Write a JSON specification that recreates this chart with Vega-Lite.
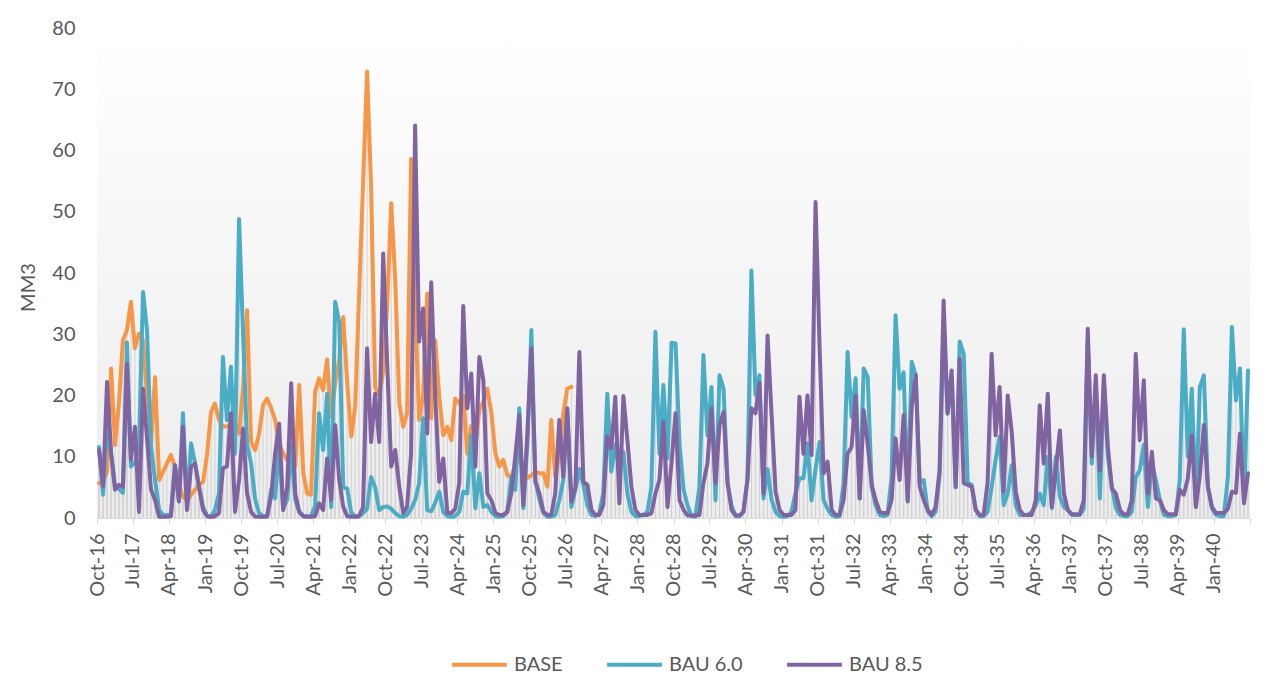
{
  "$schema": "https://vega.github.io/schema/vega-lite/v6.json",
  "width": 1153,
  "height": 490,
  "autosize": {"type": "none"},
  "padding": {"left": 97, "top": 28, "right": 31, "bottom": 168},
  "background": "#ffffff",
  "config": {
    "font": "Lato",
    "view": {
      "stroke": null,
      "fill": {"gradient": "linear", "x1": 0, "y1": 0, "x2": 0, "y2": 1,
        "stops": [{"offset": 0, "color": "#ffffff"}, {"offset": 1, "color": "#ececec"}]}
    },
    "axis": {"labelFont": "Lato", "titleFont": "Lato", "labelColor": "#595959", "titleColor": "#595959", "grid": false}
  },
  "data": {"values": [
    {"date":"2016-10","BASE":5.7,"BAU60":11.6,"BAU85":11.1},
    {"date":"2016-11","BASE":6,"BAU60":3.8,"BAU85":5.1},
    {"date":"2016-12","BASE":7.5,"BAU60":15,"BAU85":22.2},
    {"date":"2017-01","BASE":24.4,"BAU60":10.5,"BAU85":10.5},
    {"date":"2017-02","BASE":11.9,"BAU60":5.4,"BAU85":4.6},
    {"date":"2017-03","BASE":18.7,"BAU60":4.8,"BAU85":5.4},
    {"date":"2017-04","BASE":29,"BAU60":4.1,"BAU85":5.1},
    {"date":"2017-05","BASE":30.7,"BAU60":28.7,"BAU85":25.2},
    {"date":"2017-06","BASE":35.3,"BAU60":8.4,"BAU85":9.5},
    {"date":"2017-07","BASE":27.7,"BAU60":9,"BAU85":14.9},
    {"date":"2017-08","BASE":30.1,"BAU60":12,"BAU85":1.0},
    {"date":"2017-09","BASE":29,"BAU60":36.9,"BAU85":21.1},
    {"date":"2017-10","BASE":20,"BAU60":30.6,"BAU85":13},
    {"date":"2017-11","BASE":12.2,"BAU60":11.6,"BAU85":4.6},
    {"date":"2017-12","BASE":23,"BAU60":6.2,"BAU85":2.9},
    {"date":"2018-01","BASE":6.2,"BAU60":1.3,"BAU85":0.2},
    {"date":"2018-02","BASE":7.5,"BAU60":0.5,"BAU85":0.2},
    {"date":"2018-03","BASE":8.9,"BAU60":0.5,"BAU85":0.2},
    {"date":"2018-04","BASE":10.3,"BAU60":0.5,"BAU85":0.3},
    {"date":"2018-05","BASE":8.4,"BAU60":8.6,"BAU85":8.6},
    {"date":"2018-06","BASE":5.1,"BAU60":2.7,"BAU85":2.7},
    {"date":"2018-07","BASE":3.5,"BAU60":17.1,"BAU85":14.9},
    {"date":"2018-08","BASE":2.9,"BAU60":1.8,"BAU85":1.3},
    {"date":"2018-09","BASE":3.8,"BAU60":12.2,"BAU85":8.4},
    {"date":"2018-10","BASE":4.6,"BAU60":8.9,"BAU85":8.9},
    {"date":"2018-11","BASE":5.4,"BAU60":5.1,"BAU85":5},
    {"date":"2018-12","BASE":5.9,"BAU60":1.8,"BAU85":1.3},
    {"date":"2019-01","BASE":10.5,"BAU60":0.3,"BAU85":0.3},
    {"date":"2019-02","BASE":17.3,"BAU60":0.2,"BAU85":0.2},
    {"date":"2019-03","BASE":18.7,"BAU60":1.3,"BAU85":0.3},
    {"date":"2019-04","BASE":16,"BAU60":4,"BAU85":0.8},
    {"date":"2019-05","BASE":14.9,"BAU60":26.3,"BAU85":8.1},
    {"date":"2019-06","BASE":15,"BAU60":16,"BAU85":8.4},
    {"date":"2019-07","BASE":15.2,"BAU60":24.7,"BAU85":17.1},
    {"date":"2019-08","BASE":15.4,"BAU60":10.5,"BAU85":1.0},
    {"date":"2019-09","BASE":13.8,"BAU60":48.8,"BAU85":6.2},
    {"date":"2019-10","BASE":21.4,"BAU60":30,"BAU85":14.6},
    {"date":"2019-11","BASE":33.9,"BAU60":12,"BAU85":4},
    {"date":"2019-12","BASE":12.4,"BAU60":8.9,"BAU85":1},
    {"date":"2020-01","BASE":11.1,"BAU60":3,"BAU85":0.2},
    {"date":"2020-02","BASE":13.8,"BAU60":0.8,"BAU85":0.2},
    {"date":"2020-03","BASE":18.4,"BAU60":0.3,"BAU85":0.2},
    {"date":"2020-04","BASE":19.5,"BAU60":0.2,"BAU85":0.3},
    {"date":"2020-05","BASE":18,"BAU60":4.6,"BAU85":3.5},
    {"date":"2020-06","BASE":16,"BAU60":3.2,"BAU85":10.5},
    {"date":"2020-07","BASE":12.2,"BAU60":12,"BAU85":15.4},
    {"date":"2020-08","BASE":10.5,"BAU60":1.5,"BAU85":1.3},
    {"date":"2020-09","BASE":9.5,"BAU60":3,"BAU85":5.1},
    {"date":"2020-10","BASE":9,"BAU60":12,"BAU85":22},
    {"date":"2020-11","BASE":8.4,"BAU60":3,"BAU85":4},
    {"date":"2020-12","BASE":21.7,"BAU60":1,"BAU85":1},
    {"date":"2021-01","BASE":7.3,"BAU60":0.3,"BAU85":0.3},
    {"date":"2021-02","BASE":4,"BAU60":0.3,"BAU85":0.2},
    {"date":"2021-03","BASE":3.8,"BAU60":0.3,"BAU85":0.2},
    {"date":"2021-04","BASE":20.6,"BAU60":2,"BAU85":0.3},
    {"date":"2021-05","BASE":22.8,"BAU60":17.1,"BAU85":2.4},
    {"date":"2021-06","BASE":20.9,"BAU60":11.1,"BAU85":1.3},
    {"date":"2021-07","BASE":25.9,"BAU60":20.3,"BAU85":9.7},
    {"date":"2021-08","BASE":16.5,"BAU60":1.8,"BAU85":2.9},
    {"date":"2021-09","BASE":22,"BAU60":35.3,"BAU85":15.2},
    {"date":"2021-10","BASE":26,"BAU60":32,"BAU85":6.2},
    {"date":"2021-11","BASE":32.8,"BAU60":5,"BAU85":1.8},
    {"date":"2021-12","BASE":22,"BAU60":4.8,"BAU85":0.3},
    {"date":"2022-01","BASE":13.3,"BAU60":0.8,"BAU85":0.2},
    {"date":"2022-02","BASE":18.2,"BAU60":0.3,"BAU85":0.2},
    {"date":"2022-03","BASE":36.4,"BAU60":0.3,"BAU85":0.3},
    {"date":"2022-04","BASE":54.6,"BAU60":0.8,"BAU85":1.8},
    {"date":"2022-05","BASE":72.9,"BAU60":1.5,"BAU85":27.7},
    {"date":"2022-06","BASE":54,"BAU60":6.7,"BAU85":12.4},
    {"date":"2022-07","BASE":21.4,"BAU60":5,"BAU85":20.3},
    {"date":"2022-08","BASE":20,"BAU60":1.3,"BAU85":12.4},
    {"date":"2022-09","BASE":24,"BAU60":1.8,"BAU85":43.2},
    {"date":"2022-10","BASE":35,"BAU60":1.9,"BAU85":25},
    {"date":"2022-11","BASE":51.4,"BAU60":1.5,"BAU85":8.4},
    {"date":"2022-12","BASE":38.8,"BAU60":0.8,"BAU85":11.1},
    {"date":"2023-01","BASE":18.7,"BAU60":0.3,"BAU85":5},
    {"date":"2023-02","BASE":14.9,"BAU60":0.2,"BAU85":0.8},
    {"date":"2023-03","BASE":17.1,"BAU60":0.5,"BAU85":1.8},
    {"date":"2023-04","BASE":58.6,"BAU60":1.5,"BAU85":10.5},
    {"date":"2023-05","BASE":35,"BAU60":2.9,"BAU85":64.1},
    {"date":"2023-06","BASE":16,"BAU60":5.7,"BAU85":28.8},
    {"date":"2023-07","BASE":20,"BAU60":16.3,"BAU85":34.2},
    {"date":"2023-08","BASE":36.6,"BAU60":1.3,"BAU85":13.8},
    {"date":"2023-09","BASE":16.3,"BAU60":1.1,"BAU85":38.5},
    {"date":"2023-10","BASE":29,"BAU60":2.5,"BAU85":20},
    {"date":"2023-11","BASE":19.8,"BAU60":4.3,"BAU85":5.9},
    {"date":"2023-12","BASE":13.5,"BAU60":1,"BAU85":9.7},
    {"date":"2024-01","BASE":14.9,"BAU60":0.3,"BAU85":0.8},
    {"date":"2024-02","BASE":12.7,"BAU60":0.2,"BAU85":0.8},
    {"date":"2024-03","BASE":19.5,"BAU60":0.3,"BAU85":1.5},
    {"date":"2024-04","BASE":18.7,"BAU60":1,"BAU85":5.7},
    {"date":"2024-05","BASE":20,"BAU60":4.3,"BAU85":34.6},
    {"date":"2024-06","BASE":10.5,"BAU60":4,"BAU85":17.9},
    {"date":"2024-07","BASE":15,"BAU60":13.5,"BAU85":23.6},
    {"date":"2024-08","BASE":12,"BAU60":1.6,"BAU85":8.4},
    {"date":"2024-09","BASE":17.6,"BAU60":7.3,"BAU85":26.3},
    {"date":"2024-10","BASE":19,"BAU60":1.8,"BAU85":22.5},
    {"date":"2024-11","BASE":21.1,"BAU60":2.1,"BAU85":4},
    {"date":"2024-12","BASE":17.1,"BAU60":1,"BAU85":2.9},
    {"date":"2025-01","BASE":10.5,"BAU60":0.3,"BAU85":0.8},
    {"date":"2025-02","BASE":8.4,"BAU60":0.2,"BAU85":0.5},
    {"date":"2025-03","BASE":9.5,"BAU60":0.3,"BAU85":0.5},
    {"date":"2025-04","BASE":7,"BAU60":1,"BAU85":1},
    {"date":"2025-05","BASE":6.7,"BAU60":6.7,"BAU85":4},
    {"date":"2025-06","BASE":8.4,"BAU60":4.6,"BAU85":10},
    {"date":"2025-07","BASE":10,"BAU60":17.9,"BAU85":16.8},
    {"date":"2025-08","BASE":8,"BAU60":1.6,"BAU85":2.1},
    {"date":"2025-09","BASE":6.5,"BAU60":12,"BAU85":14},
    {"date":"2025-10","BASE":7,"BAU60":30.7,"BAU85":27.7},
    {"date":"2025-11","BASE":7.6,"BAU60":6.2,"BAU85":5.9},
    {"date":"2025-12","BASE":7.3,"BAU60":3,"BAU85":4},
    {"date":"2026-01","BASE":7.3,"BAU60":0.8,"BAU85":1},
    {"date":"2026-02","BASE":5.1,"BAU60":0.2,"BAU85":0.5},
    {"date":"2026-03","BASE":16,"BAU60":0.2,"BAU85":0.5},
    {"date":"2026-04","BASE":6.7,"BAU60":0.5,"BAU85":4},
    {"date":"2026-05","BASE":10.5,"BAU60":2.9,"BAU85":16},
    {"date":"2026-06","BASE":17.1,"BAU60":6.2,"BAU85":6.7},
    {"date":"2026-07","BASE":21.1,"BAU60":17.6,"BAU85":17.9},
    {"date":"2026-08","BASE":21.4,"BAU60":1.8,"BAU85":2.7},
    {"date":"2026-09","BAU60":4.6,"BAU85":5.1},
    {"date":"2026-10","BAU60":8,"BAU85":27.1},
    {"date":"2026-11","BAU60":5.4,"BAU85":5.9},
    {"date":"2026-12","BAU60":2,"BAU85":5.4},
    {"date":"2027-01","BAU60":0.5,"BAU85":1.3},
    {"date":"2027-02","BAU60":0.3,"BAU85":0.5},
    {"date":"2027-03","BAU60":0.8,"BAU85":0.5},
    {"date":"2027-04","BAU60":4,"BAU85":2.1},
    {"date":"2027-05","BAU60":20.3,"BAU85":13.3},
    {"date":"2027-06","BAU60":7.6,"BAU85":11.4},
    {"date":"2027-07","BAU60":12,"BAU85":19.8},
    {"date":"2027-08","BAU60":8,"BAU85":2.4},
    {"date":"2027-09","BAU60":10.8,"BAU85":19.9},
    {"date":"2027-10","BAU60":4,"BAU85":12.7},
    {"date":"2027-11","BAU60":1,"BAU85":5.1},
    {"date":"2027-12","BAU60":0.3,"BAU85":1.3},
    {"date":"2028-01","BAU60":0.3,"BAU85":0.5},
    {"date":"2028-02","BAU60":0.5,"BAU85":0.5},
    {"date":"2028-03","BAU60":1,"BAU85":0.5},
    {"date":"2028-04","BAU60":5.1,"BAU85":0.8},
    {"date":"2028-05","BAU60":30.4,"BAU85":4},
    {"date":"2028-06","BAU60":10.5,"BAU85":6.2},
    {"date":"2028-07","BAU60":21.7,"BAU85":15.7},
    {"date":"2028-08","BAU60":9.7,"BAU85":1.8},
    {"date":"2028-09","BAU60":28.6,"BAU85":9},
    {"date":"2028-10","BAU60":28.5,"BAU85":17.1},
    {"date":"2028-11","BAU60":12,"BAU85":2.9},
    {"date":"2028-12","BAU60":4.6,"BAU85":1.3},
    {"date":"2029-01","BAU60":2,"BAU85":0.4},
    {"date":"2029-02","BAU60":0.3,"BAU85":0.4},
    {"date":"2029-03","BAU60":0.2,"BAU85":0.4},
    {"date":"2029-04","BAU60":5.1,"BAU85":0.5},
    {"date":"2029-05","BAU60":26.6,"BAU85":5.7},
    {"date":"2029-06","BAU60":13.5,"BAU85":8.9},
    {"date":"2029-07","BAU60":21.4,"BAU85":17.9},
    {"date":"2029-08","BAU60":2.9,"BAU85":5.7},
    {"date":"2029-09","BAU60":23.3,"BAU85":15.2},
    {"date":"2029-10","BAU60":21.1,"BAU85":17.3},
    {"date":"2029-11","BAU60":5.7,"BAU85":5.7},
    {"date":"2029-12","BAU60":2,"BAU85":1.3},
    {"date":"2030-01","BAU60":0.3,"BAU85":0.4},
    {"date":"2030-02","BAU60":0.3,"BAU85":0.4},
    {"date":"2030-03","BAU60":1,"BAU85":1},
    {"date":"2030-04","BAU60":6.2,"BAU85":6.2},
    {"date":"2030-05","BAU60":40.4,"BAU85":17.9},
    {"date":"2030-06","BAU60":20.1,"BAU85":17.1},
    {"date":"2030-07","BAU60":23.3,"BAU85":22},
    {"date":"2030-08","BAU60":3.2,"BAU85":4},
    {"date":"2030-09","BAU60":8,"BAU85":29.8},
    {"date":"2030-10","BAU60":3,"BAU85":17},
    {"date":"2030-11","BAU60":1,"BAU85":4.3},
    {"date":"2030-12","BAU60":0.3,"BAU85":1.3},
    {"date":"2031-01","BAU60":0.2,"BAU85":0.5},
    {"date":"2031-02","BAU60":0.3,"BAU85":0.5},
    {"date":"2031-03","BAU60":1,"BAU85":0.5},
    {"date":"2031-04","BAU60":4,"BAU85":1.3},
    {"date":"2031-05","BAU60":6.5,"BAU85":19.8},
    {"date":"2031-06","BAU60":6.5,"BAU85":10.5},
    {"date":"2031-07","BAU60":12.2,"BAU85":20},
    {"date":"2031-08","BAU60":2.9,"BAU85":10.3},
    {"date":"2031-09","BAU60":8,"BAU85":51.6},
    {"date":"2031-10","BAU60":12.4,"BAU85":28},
    {"date":"2031-11","BAU60":2.9,"BAU85":7.3},
    {"date":"2031-12","BAU60":1.5,"BAU85":9.2},
    {"date":"2032-01","BAU60":0.5,"BAU85":1.3},
    {"date":"2032-02","BAU60":0.2,"BAU85":0.5},
    {"date":"2032-03","BAU60":0.3,"BAU85":0.5},
    {"date":"2032-04","BAU60":5.7,"BAU85":2.9},
    {"date":"2032-05","BAU60":27.1,"BAU85":10.5},
    {"date":"2032-06","BAU60":16.5,"BAU85":11.6},
    {"date":"2032-07","BAU60":22.8,"BAU85":20},
    {"date":"2032-08","BAU60":3.2,"BAU85":3.2},
    {"date":"2032-09","BAU60":24.4,"BAU85":17.6},
    {"date":"2032-10","BAU60":23,"BAU85":12},
    {"date":"2032-11","BAU60":5,"BAU85":5.4},
    {"date":"2032-12","BAU60":2,"BAU85":2.9},
    {"date":"2033-01","BAU60":0.5,"BAU85":1},
    {"date":"2033-02","BAU60":0.3,"BAU85":0.8},
    {"date":"2033-03","BAU60":0.5,"BAU85":0.8},
    {"date":"2033-04","BAU60":6.7,"BAU85":2.9},
    {"date":"2033-05","BAU60":33.1,"BAU85":13},
    {"date":"2033-06","BAU60":21.1,"BAU85":6.2},
    {"date":"2033-07","BAU60":23.8,"BAU85":16.8},
    {"date":"2033-08","BAU60":2.9,"BAU85":2.7},
    {"date":"2033-09","BAU60":25.5,"BAU85":18},
    {"date":"2033-10","BAU60":23.3,"BAU85":23.3},
    {"date":"2033-11","BAU60":5.7,"BAU85":5.1},
    {"date":"2033-12","BAU60":6.2,"BAU85":2.9},
    {"date":"2034-01","BAU60":1,"BAU85":1.3},
    {"date":"2034-02","BAU60":0.3,"BAU85":0.5},
    {"date":"2034-03","BAU60":1,"BAU85":1.8},
    {"date":"2034-04","BAU60":7,"BAU85":7.8},
    {"date":"2034-05","BAU60":32,"BAU85":35.5},
    {"date":"2034-06","BAU60":17,"BAU85":17.1},
    {"date":"2034-07","BAU60":23,"BAU85":24.1},
    {"date":"2034-08","BAU60":5,"BAU85":5.1},
    {"date":"2034-09","BAU60":28.8,"BAU85":26},
    {"date":"2034-10","BAU60":26.8,"BAU85":5.7},
    {"date":"2034-11","BAU60":5.7,"BAU85":5.4},
    {"date":"2034-12","BAU60":5.4,"BAU85":5.1},
    {"date":"2035-01","BAU60":1.3,"BAU85":1.3},
    {"date":"2035-02","BAU60":0.3,"BAU85":0.5},
    {"date":"2035-03","BAU60":0.3,"BAU85":0.5},
    {"date":"2035-04","BAU60":1,"BAU85":5.7},
    {"date":"2035-05","BAU60":5,"BAU85":26.8},
    {"date":"2035-06","BAU60":9.5,"BAU85":13.5},
    {"date":"2035-07","BAU60":13.3,"BAU85":21.4},
    {"date":"2035-08","BAU60":2.1,"BAU85":4.3},
    {"date":"2035-09","BAU60":4,"BAU85":20},
    {"date":"2035-10","BAU60":8.6,"BAU85":14},
    {"date":"2035-11","BAU60":2,"BAU85":4.3},
    {"date":"2035-12","BAU60":0.5,"BAU85":1.3},
    {"date":"2036-01","BAU60":0.5,"BAU85":0.5},
    {"date":"2036-02","BAU60":0.5,"BAU85":0.5},
    {"date":"2036-03","BAU60":1,"BAU85":0.5},
    {"date":"2036-04","BAU60":2,"BAU85":2.9},
    {"date":"2036-05","BAU60":4,"BAU85":18.4},
    {"date":"2036-06","BAU60":2.1,"BAU85":8.9},
    {"date":"2036-07","BAU60":10,"BAU85":20.3},
    {"date":"2036-08","BAU60":1.6,"BAU85":1.8},
    {"date":"2036-09","BAU60":10,"BAU85":8},
    {"date":"2036-10","BAU60":3.5,"BAU85":14.3},
    {"date":"2036-11","BAU60":1.8,"BAU85":4},
    {"date":"2036-12","BAU60":1.3,"BAU85":1.3},
    {"date":"2037-01","BAU60":0.5,"BAU85":0.6},
    {"date":"2037-02","BAU60":0.5,"BAU85":0.6},
    {"date":"2037-03","BAU60":0.5,"BAU85":0.6},
    {"date":"2037-04","BAU60":1.5,"BAU85":2.9},
    {"date":"2037-05","BAU60":29,"BAU85":30.9},
    {"date":"2037-06","BAU60":8.9,"BAU85":10},
    {"date":"2037-07","BAU60":22,"BAU85":23.3},
    {"date":"2037-08","BAU60":3.2,"BAU85":7.8},
    {"date":"2037-09","BAU60":22,"BAU85":23.3},
    {"date":"2037-10","BAU60":10,"BAU85":11.6},
    {"date":"2037-11","BAU60":5.1,"BAU85":4.8},
    {"date":"2037-12","BAU60":1.6,"BAU85":4},
    {"date":"2038-01","BAU60":0.5,"BAU85":1.3},
    {"date":"2038-02","BAU60":0.3,"BAU85":0.6},
    {"date":"2038-03","BAU60":0.3,"BAU85":0.6},
    {"date":"2038-04","BAU60":1,"BAU85":2.9},
    {"date":"2038-05","BAU60":6.7,"BAU85":26.8},
    {"date":"2038-06","BAU60":7.8,"BAU85":12.7},
    {"date":"2038-07","BAU60":12,"BAU85":22.5},
    {"date":"2038-08","BAU60":1.8,"BAU85":4},
    {"date":"2038-09","BAU60":8.9,"BAU85":10.8},
    {"date":"2038-10","BAU60":6.2,"BAU85":3.2},
    {"date":"2038-11","BAU60":2.9,"BAU85":2.9},
    {"date":"2038-12","BAU60":0.5,"BAU85":1.3},
    {"date":"2039-01","BAU60":0.3,"BAU85":0.6},
    {"date":"2039-02","BAU60":0.3,"BAU85":0.6},
    {"date":"2039-03","BAU60":0.5,"BAU85":0.6},
    {"date":"2039-04","BAU60":6.2,"BAU85":4.6},
    {"date":"2039-05","BAU60":30.8,"BAU85":3.8},
    {"date":"2039-06","BAU60":10,"BAU85":6.4},
    {"date":"2039-07","BAU60":21.1,"BAU85":13.5},
    {"date":"2039-08","BAU60":1.8,"BAU85":1.8},
    {"date":"2039-09","BAU60":21.4,"BAU85":7},
    {"date":"2039-10","BAU60":23.3,"BAU85":15.2},
    {"date":"2039-11","BAU60":5,"BAU85":5.1},
    {"date":"2039-12","BAU60":1.6,"BAU85":1.8},
    {"date":"2040-01","BAU60":0.5,"BAU85":0.8},
    {"date":"2040-02","BAU60":0.3,"BAU85":0.8},
    {"date":"2040-03","BAU60":0.3,"BAU85":0.8},
    {"date":"2040-04","BAU60":6.7,"BAU85":1.5},
    {"date":"2040-05","BAU60":31.2,"BAU85":4.3},
    {"date":"2040-06","BAU60":19.2,"BAU85":4.1},
    {"date":"2040-07","BAU60":24.4,"BAU85":13.8},
    {"date":"2040-08","BAU60":2.9,"BAU85":2.4},
    {"date":"2040-09","BAU60":24.1,"BAU85":7.3}
  ]},
  "transform": [{"fold": ["BASE", "BAU60", "BAU85"], "as": ["series", "value"]}],
  "encoding": {
    "x": {
      "field": "date", "type": "temporal", "timeUnit": "utcyearmonth", "bandPosition": 0.5,
      "scale": {"domain": [{"year": 2016, "month": 10, "date": 1, "utc": true}, {"year": 2040, "month": 10, "date": 1, "utc": true}]},
      "axis": {
        "title": null,
        "values": [
          {"year":2016,"month":10,"date":1,"utc":true},{"year":2017,"month":7,"date":1,"utc":true},{"year":2018,"month":4,"date":1,"utc":true},
          {"year":2019,"month":1,"date":1,"utc":true},{"year":2019,"month":10,"date":1,"utc":true},{"year":2020,"month":7,"date":1,"utc":true},
          {"year":2021,"month":4,"date":1,"utc":true},{"year":2022,"month":1,"date":1,"utc":true},{"year":2022,"month":10,"date":1,"utc":true},
          {"year":2023,"month":7,"date":1,"utc":true},{"year":2024,"month":4,"date":1,"utc":true},{"year":2025,"month":1,"date":1,"utc":true},
          {"year":2025,"month":10,"date":1,"utc":true},{"year":2026,"month":7,"date":1,"utc":true},{"year":2027,"month":4,"date":1,"utc":true},
          {"year":2028,"month":1,"date":1,"utc":true},{"year":2028,"month":10,"date":1,"utc":true},{"year":2029,"month":7,"date":1,"utc":true},
          {"year":2030,"month":4,"date":1,"utc":true},{"year":2031,"month":1,"date":1,"utc":true},{"year":2031,"month":10,"date":1,"utc":true},
          {"year":2032,"month":7,"date":1,"utc":true},{"year":2033,"month":4,"date":1,"utc":true},{"year":2034,"month":1,"date":1,"utc":true},
          {"year":2034,"month":10,"date":1,"utc":true},{"year":2035,"month":7,"date":1,"utc":true},{"year":2036,"month":4,"date":1,"utc":true},
          {"year":2037,"month":1,"date":1,"utc":true},{"year":2037,"month":10,"date":1,"utc":true},{"year":2038,"month":7,"date":1,"utc":true},
          {"year":2039,"month":4,"date":1,"utc":true},{"year":2040,"month":1,"date":1,"utc":true},{"year":2040,"month":10,"date":1,"utc":true}
        ],
        "format": "%b-%y",
        "labelExpr": "datum.value > utc(2040, 5, 1) ? '' : datum.label",
        "labelAngle": -90, "labelAlign": "right", "labelBaseline": "middle",
        "labelFontSize": 20, "labelPadding": 9, "labelOverlap": false, "labelFlush": false, "labelBound": false,
        "tickSize": 6, "tickColor": "#d9d9d9", "domainColor": "#d9d9d9", "domainWidth": 1
      }
    },
    "y": {
      "field": "value", "type": "quantitative",
      "scale": {"domain": [0, 80], "nice": false},
      "axis": {
        "title": "MM3", "values": [0, 10, 20, 30, 40, 50, 60, 70, 80],
        "domain": false, "ticks": false, "labelFontSize": 20, "labelPadding": 22,
        "titleFontSize": 20, "titleFontWeight": "normal", "titleAngle": -90,
        "titleAlign": "center", "titleBaseline": "middle", "titleX": -69, "titleY": 259
      }
    }
  },
  "layer": [
    {
      "mark": {"type": "rule", "color": "#d2d2d2", "strokeWidth": 1},
      "encoding": {"y2": {"datum": 0}}
    },
    {
      "mark": {"type": "line", "strokeWidth": 4, "strokeJoin": "round", "strokeCap": "round"},
      "encoding": {
        "color": {
          "field": "series", "type": "nominal",
          "scale": {"domain": ["BASE", "BAU60", "BAU85"], "range": ["#F79646", "#4BACC6", "#8064A2"]},
          "legend": {
            "orient": "none", "legendX": 353, "legendY": 607, "direction": "horizontal", "title": null,
            "symbolType": "stroke", "symbolSize": 3000, "symbolStrokeWidth": 4,
            "labelFontSize": 20, "labelColor": "#595959", "labelFont": "Lato", "labelOffset": 5, "columnPadding": 36,
            "labelExpr": "datum.label == 'BAU60' ? 'BAU 6.0' : datum.label == 'BAU85' ? 'BAU 8.5' : datum.label"
          }
        }
      }
    }
  ]
}
